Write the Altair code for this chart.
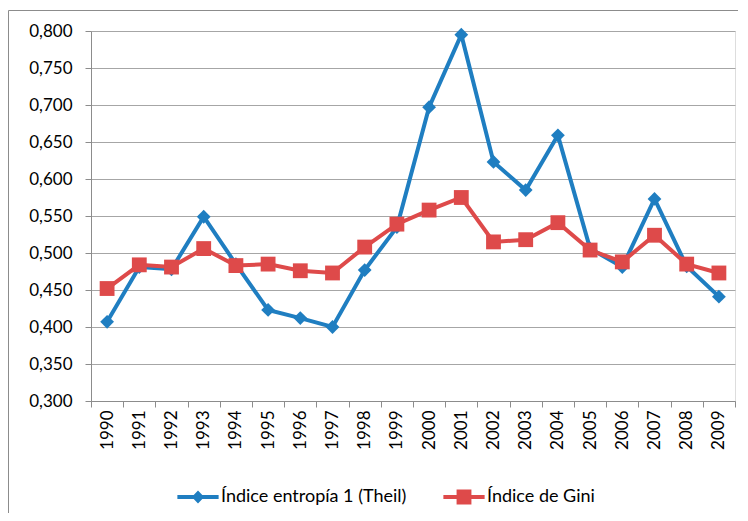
import altair as alt
import pandas as pd

years = [str(y) for y in range(1990, 2010)]
theil = [0.407, 0.481, 0.478, 0.549, 0.485, 0.423, 0.412, 0.400, 0.477, 0.535,
         0.697, 0.795, 0.623, 0.585, 0.659, 0.506, 0.481, 0.573, 0.482, 0.441]
gini = [0.452, 0.484, 0.481, 0.506, 0.483, 0.485, 0.476, 0.473, 0.508, 0.539,
        0.558, 0.575, 0.515, 0.518, 0.541, 0.504, 0.488, 0.524, 0.485, 0.473]
series_names = ["Índice entropía 1 (Theil)", "Índice de Gini"]
series_colors = ["#1F7EC1", "#DE4A4A"]
y_ticks = [0.30, 0.35, 0.40, 0.45, 0.50, 0.55, 0.60, 0.65, 0.70, 0.75, 0.80]

df = pd.DataFrame({
    "year": years * 2,
    "value": theil + gini,
    "series": [series_names[0]] * len(years) + [series_names[1]] * len(years),
})

FONT = "Lato"

x_enc = alt.X("year:O", title=None,
              scale=alt.Scale(domain=years, paddingInner=0, paddingOuter=0),
              axis=alt.Axis(labelAngle=-90, tickBand="extent", tickSize=6,
                            labelPadding=3, domainColor="#8c8c8c", tickColor="#8c8c8c",
                            labelFont=FONT, labelFontSize=17, labelColor="#000000",
                            grid=False))
y_enc = alt.Y("value:Q", title=None,
              scale=alt.Scale(domain=[0.3, 0.8], nice=False, zero=False),
              axis=alt.Axis(values=y_ticks, labelExpr="replace(format(datum.value, '.3f'), '.', ',')",
                            tickSize=6, labelPadding=13, domainColor="#8c8c8c",
                            tickColor="#8c8c8c", gridColor="#a6a6a6", grid=True,
                            labelFont=FONT, labelFontSize=17, labelColor="#000000"))

series_scale = alt.Scale(domain=series_names, range=series_colors)

blue_legend_path = "M-1,-0.1H1V0.1H-1Z M0,-0.32L0.3,0L0,0.32L-0.3,0Z"
red_legend_path = "M-1,-0.1H1V0.1H-1Z M-0.36,-0.36H0.36V0.36H-0.36Z"

legend = alt.Legend(
    title=None, orient="none", direction="horizontal",
    legendX=86, legendY=445, padding=0,
    labelFont=FONT, labelFontSize=18, labelColor="#000000", labelOffset=2,
    columnPadding=36, symbolSize=1700, symbolStrokeWidth=0, symbolOpacity=1,
    labelLimit=400,
)

# legend-carrying layer: tiny marks hidden under the lines
legend_layer = alt.Chart(df).mark_point(
    filled=True, size=2
).encode(
    x=x_enc, y=y_enc,
    color=alt.Color("series:N", scale=series_scale, legend=legend),
    shape=alt.Shape("series:N", scale=alt.Scale(domain=series_names,
                                                range=[blue_legend_path, red_legend_path]),
                    legend=legend),
)

layers = []
shapes = ["diamond", "square"]
sizes = [190, 220]
for name, shp, sz in zip(series_names, shapes, sizes):
    base = alt.Chart(df).transform_filter(alt.datum.series == name)
    line = base.mark_line(strokeWidth=4).encode(
        x=x_enc, y=y_enc,
        stroke=alt.Stroke("series:N", scale=series_scale, legend=None),
    )
    pts = base.mark_point(filled=True, opacity=1, shape=shp, size=sz, strokeWidth=0).encode(
        x=x_enc, y=y_enc,
        fill=alt.Fill("series:N", scale=series_scale, legend=None),
    )
    layers += [line, pts]

frame = alt.Chart(pd.DataFrame({"f": [0]})).mark_rect(
    fill=None, stroke="#8c8c8c", strokeWidth=1
).encode(x=alt.value(-82.5), y=alt.value(-20.5), x2=alt.value(900), y2=alt.value(700))

chart = alt.layer(frame, legend_layer, *layers).properties(
    width=644, height=370,
    autosize=alt.AutoSizeParams(type="none"),
    padding={"left": 83, "top": 23, "right": 3, "bottom": 112},
).configure_view(stroke=None).configure(background="white")

chart.save("out.html", embed_options={"renderer": "svg", "actions": False})
